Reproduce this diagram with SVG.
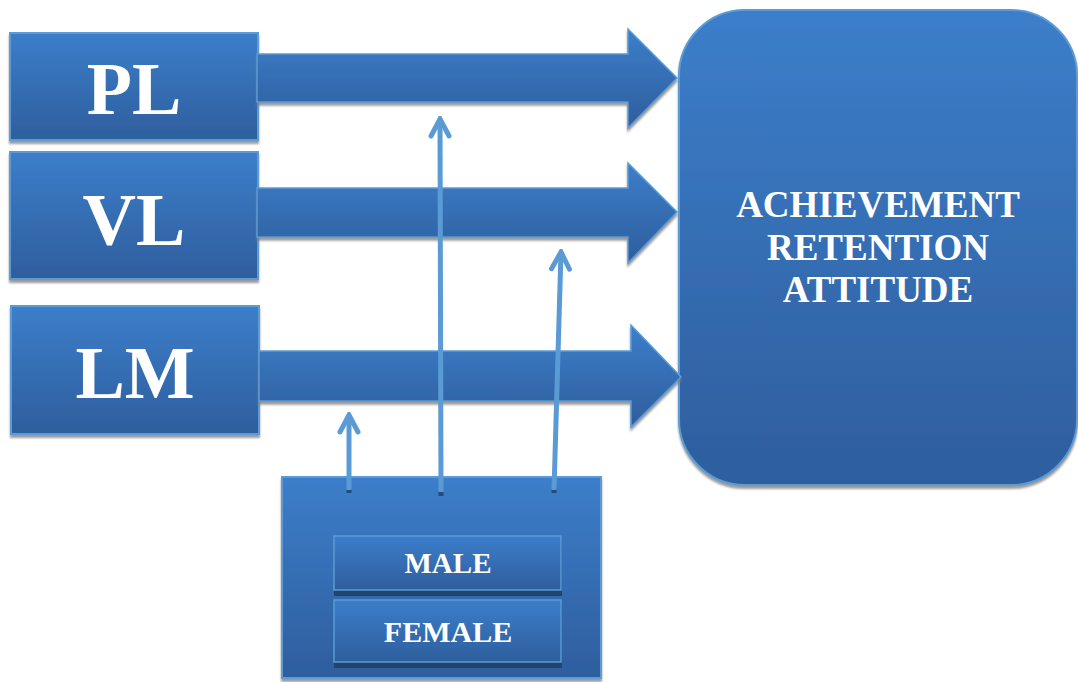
<svg xmlns="http://www.w3.org/2000/svg" width="1078" height="682" viewBox="0 0 1078 682">
  <defs>
    <linearGradient id="g" x1="0" y1="0" x2="0" y2="1">
      <stop offset="0" stop-color="#3c7eca"/>
      <stop offset="1" stop-color="#2e5e9d"/>
    </linearGradient>
    <filter id="sh" x="-5%" y="-5%" width="110%" height="115%">
      <feDropShadow dx="0" dy="3" stdDeviation="1" flood-color="#7a7a7a" flood-opacity="0.75"/>
    </filter>
    <marker id="ah" viewBox="0 0 24 24" refX="21" refY="12" markerWidth="24" markerHeight="24" markerUnits="userSpaceOnUse" orient="auto">
      <polyline points="4,3 21,12 4,21" fill="none" stroke="#5b9bd5" stroke-width="5" stroke-linejoin="miter" stroke-linecap="round"/>
    </marker>
  </defs>
  <style>
    .box { fill: url(#g); stroke: #5b9bd5; stroke-width: 2; filter: url(#sh); }
    .arr { fill: url(#g); stroke: #5b9bd5; stroke-width: 1.5; filter: url(#sh); }
    .big { font-family: "Liberation Serif", "Times New Roman", serif; font-weight: bold; fill: #ffffff; text-anchor: middle; }
    .ln { stroke: #5b9bd5; stroke-width: 5; fill: none; }
  </style>

  <g id="node-target">
    <rect class="box" x="679" y="10" width="398" height="475" rx="66" ry="66"/>
    <text class="big" font-size="37" x="878" y="217">ACHIEVEMENT</text>
    <text class="big" font-size="37" x="878" y="260">RETENTION</text>
    <text class="big" font-size="37" x="878" y="302">ATTITUDE</text>
  </g>

  <g id="node-pl">
    <rect class="box" x="10" y="33" width="248" height="107"/>
    <text class="big" font-size="74" x="134" y="114">PL</text>
  </g>
  <g id="node-vl">
    <rect class="box" x="10" y="152" width="248" height="127"/>
    <text class="big" font-size="74" x="134" y="245">VL</text>
  </g>
  <g id="node-lm">
    <rect class="box" x="11" y="306" width="248" height="128"/>
    <text class="big" font-size="74" x="135" y="398">LM</text>
  </g>

  <g id="node-gender">
    <rect class="box" x="282" y="477" width="319" height="201"/>
  </g>
  <g id="node-male">
    <rect x="334" y="540" width="228" height="56" fill="#21446f"/>
    <rect x="334" y="536" width="227" height="54" fill="url(#g)" stroke="#5b9bd5" stroke-width="1.5"/>
    <text class="big" font-size="29" x="448" y="573">MALE</text>
  </g>
  <g id="node-female">
    <rect x="334" y="604" width="228" height="64" fill="#21446f"/>
    <rect x="334" y="600" width="227" height="62" fill="url(#g)" stroke="#5b9bd5" stroke-width="1.5"/>
    <text class="big" font-size="30" x="448" y="642">FEMALE</text>
  </g>

  <g id="connectors">
    <polygon id="arrow-pl" class="arr" points="257,54 628,54 628,29 677,78 628,128 628,102 257,102"/>
    <polygon id="arrow-vl" class="arr" points="257,188 628,188 628,163 677,212 628,263 628,237 257,237"/>
    <polygon id="arrow-lm" class="arr" points="259,351 631,351 631,325 681,377 631,427 631,401 259,401"/>
    <line x1="349" y1="489" x2="349" y2="493" stroke="#244a7a" stroke-width="5"/>
    <line x1="441" y1="491" x2="441" y2="496" stroke="#244a7a" stroke-width="5"/>
    <line x1="554" y1="489" x2="554" y2="493" stroke="#244a7a" stroke-width="5"/>
    <line class="ln" x1="349" y1="490" x2="349" y2="415" marker-end="url(#ah)"/>
    <line class="ln" x1="441" y1="492" x2="440" y2="119" marker-end="url(#ah)"/>
    <line class="ln" x1="554" y1="490" x2="561" y2="252" marker-end="url(#ah)"/>
  </g>
</svg>
